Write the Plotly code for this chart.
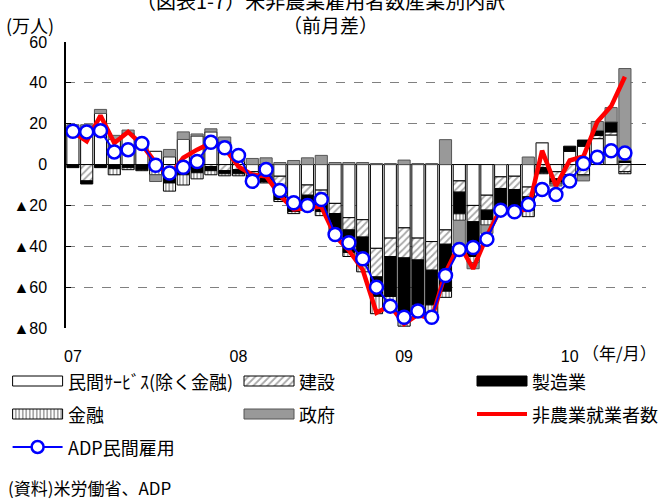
import plotly.graph_objects as go

W, H = 659, 501

# Monthly change, 2007/01 .. 2010/05 (unit: 10k persons)
months = list(range(41))
tick_pos = [0, 12, 24, 36]
tick_text = ["07", "08", "09", "10"]

services = [17, 17, 25, 12.3, 15.3, 10, 6.5, 3.8, 12.3, 14, 16, 11,
            1.5, -3.5, -4, -5.7, -17, -10, -12.5, -19, -26, -27, -41, -36, -31, -36, -37.7,
            -32, -8, -20, -15, -6, -5.7, -11, 10.7, -3.5, 6.5, 9, 12.7, 14.5, 1]
construction = [-0.5, -8, -0.5, -0.5, -0.5, -0.5, -1, -3, -1, -1, -1, -3,
                -2.5, -2, -2, -4.9, -1, -5, -2.5, -5, -6, -8.5, -14, -9, -14.7, -10.7, -14,
                -7, -5.5, -8, -7.3, -5.7, -6.5, -4.8, -1.5, -3.5, -5, -5, 1.6, 1.5, -3.5]
manufacturing = [-1, -1.5, -1, -1.5, -1, -2, -1.5, -6, -4, -3, -2, -1.5,
                 -2, -2, -2.5, -6.5, -5, -5, -8, -11, -11, -14, -9.5, -19.6, -26.9, -22, -17,
                 -23, -10.6, -17, -4.6, -11, -9, -6.5, -2.5, -1.5, 2.5, 3, 2.4, 4.9, 1]
finance = [0, 0, 0, -3, -1, -0.5, -2.5, -4, -5, -3, -2, -1,
           -1, -0.5, -0.5, -1, -1, -2.5, -2, -1, -2, -3, -8.5, -5.7, -6.5, -4, -4,
           -3, -3.2, -3, -2.7, -1, -2, -3.2, -0.5, -1, -1, -0.5, 0, 0, -1]
government = [2.5, 2.5, 2, 2, 1.6, 1, -3.3, 3.6, 3.7, 1, 1.5, 2.5,
              2, 3, 3.3, 1, 2, 3.3, 4.5, 1, 1, 1, 0.5, 0.5, 2.2, 0.5, 0.5,
              12.2, -12, -3, -4.1, 0, 0, 3.7, 0, -1, -2, -2.5, 4.4, 7, 45]
nonfarm = [16, 11.4, 24, 10.6, 16, 9.8, 0.8, -5.7, 3.3, 7.3, 10.6, 8,
           -1, -5, -5.7, -15, -22, -21.5, -20.5, -35, -42, -51.5, -72.5, -69, -78, -73.5, -75.5,
           -53, -39, -51, -35, -21.5, -22.5, -22, 6.8, -10.5, 2, 4, 21, 28.5, 43]
adp = [16.3, 16.0, 16.6, 6.2, 7.3, 10.3, -0.3, -4.1, -1.3, 1.5, 10.9, 8.2,
       4.5, -8.2, -2.4, -12.7, -18.7, -20.0, -17.1, -34.2, -38.3, -46.1, -60.0, -69.3, -74.7, -71.7, -74.7,
       -54.3, -41.6, -40.6, -36.5, -22.3, -23.1, -19.6, -12.2, -14.7, -8.1, 0.5, 3.6, 6.8, 5.7]

y_ticks = [60, 40, 20, 0, -20, -40, -60, -80]
y_tick_text = ["60", "40", "20", "0", "▲20", "▲40", "▲60", "▲80"]

names = ["民間ｻｰﾋﾞｽ(除く金融)", "建設", "製造業", "金融", "政府", "非農業就業者数", "ADP民間雇用"]

FONT = "Liberation Sans, Arial, Noto Sans CJK JP, sans-serif"
JFONT = "Noto Sans CJK JP, sans-serif"

# bar styles
styles = [
    dict(color="white", line=dict(color="black", width=1)),
    dict(color="white", line=dict(color="black", width=1),
         pattern=dict(shape="/", fgcolor="#505050", size=5, solidity=0.35, fillmode="overlay")),
    dict(color="black", line=dict(color="black", width=1)),
    dict(color="white", line=dict(color="black", width=1),
         pattern=dict(shape="|", fgcolor="black", size=3.5, solidity=0.35, fillmode="overlay")),
    dict(color="#999999", line=dict(color="#555555", width=1)),
]
series = [services, construction, manufacturing, finance, government]


def px(x):
    return x / W


def py(y):
    return 1 - y / H


fig = go.Figure()

for s, st, nm in zip(series, styles, names[:5]):
    fig.add_trace(go.Bar(x=months, y=s, name=nm, marker=st, xaxis="x", yaxis="y"))

fig.add_trace(go.Scatter(x=months, y=nonfarm, mode="lines", name=names[5],
                         line=dict(color="#ff0000", width=4.5), xaxis="x", yaxis="y"))
fig.add_trace(go.Scatter(x=months, y=adp, mode="lines+markers", name=names[6],
                         line=dict(color="#0000ff", width=2),
                         marker=dict(symbol="circle", size=13, color="white",
                                     line=dict(color="#0000ff", width=2.5)),
                         xaxis="x", yaxis="y"))

# legend keys drawn on a pixel-scaled helper axis below the plot
key_w, key_h = 50, 10
rows = [381, 414, 447]
cols = [12.6, 244, 477]
bar_keys = [(0, 0, 0), (1, 1, 0), (2, 2, 0), (3, 0, 1), (4, 1, 1)]
for si, c, r in bar_keys:
    fig.add_trace(go.Bar(orientation="h", x=[key_w], base=[cols[c]], y=[rows[r]], width=[key_h],
                         marker=styles[si], xaxis="x2", yaxis="y2", hoverinfo="skip"))
fig.add_trace(go.Scatter(x=[cols[2], cols[2] + key_w], y=[rows[1], rows[1]], mode="lines",
                         line=dict(color="#ff0000", width=4), xaxis="x2", yaxis="y2", hoverinfo="skip"))
fig.add_trace(go.Scatter(x=[cols[0], cols[0] + key_w], y=[rows[2], rows[2]], mode="lines",
                         line=dict(color="#0000ff", width=2), xaxis="x2", yaxis="y2", hoverinfo="skip"))
fig.add_trace(go.Scatter(x=[cols[0] + key_w / 2], y=[rows[2]], mode="markers",
                         marker=dict(symbol="circle", size=12, color="white",
                                     line=dict(color="#0000ff", width=2.5)),
                         xaxis="x2", yaxis="y2", hoverinfo="skip"))

label_pos = [(0, 0), (1, 0), (2, 0), (0, 1), (1, 1), (2, 1), (0, 2)]
annotations = []
for nm, (c, r) in zip(names, label_pos):
    annotations.append(dict(text=nm, x=px(cols[c] + key_w + 3), y=py(rows[r]), xref="paper", yref="paper",
                            xanchor="left", yanchor="middle", showarrow=False,
                            font=dict(family=JFONT, size=18, color="black")))

annotations += [
    dict(text="（図表1-7）米非農業雇用者数産業別内訳", x=px(320), y=py(0), xref="paper", yref="paper",
         xanchor="center", yanchor="middle", showarrow=False,
         font=dict(family=JFONT, size=20, color="black")),
    dict(text="（前月差）", x=px(330), y=py(25), xref="paper", yref="paper",
         xanchor="center", yanchor="middle", showarrow=False,
         font=dict(family=JFONT, size=19, color="black")),
    dict(text="(万人)", x=px(4), y=py(25), xref="paper", yref="paper",
         xanchor="left", yanchor="middle", showarrow=False,
         font=dict(family=JFONT, size=18, color="black")),
    dict(text="（年/月）", x=px(659), y=py(352), xref="paper", yref="paper",
         xanchor="right", yanchor="middle", showarrow=False,
         font=dict(family=JFONT, size=17, color="black")),
    dict(text="(資料)米労働省、ADP", x=px(6), y=py(487), xref="paper", yref="paper",
         xanchor="left", yanchor="middle", showarrow=False,
         font=dict(family=JFONT, size=17, color="black")),
]

fig.update_layout(
    width=W, height=H,
    margin=dict(l=0, r=0, t=0, b=0, autoexpand=False),
    barmode="relative", bargap=0.12,
    plot_bgcolor="rgba(0,0,0,0)", paper_bgcolor="white",
    showlegend=False,
    annotations=annotations,
    xaxis=dict(domain=[px(66), px(645.6)], range=[-0.5, 41.5], anchor="y",
               tickmode="array", tickvals=tick_pos, ticktext=tick_text,
               ticks="outside", ticklen=14, tickcolor="rgba(0,0,0,0)",
               showline=False, showgrid=False, zeroline=False,
               tickfont=dict(family=FONT, size=16, color="black")),
    yaxis=dict(domain=[py(328), py(42)], range=[-80, 60], anchor="x",
               tickmode="array", tickvals=y_ticks, ticktext=y_tick_text,
               ticks="inside", ticklen=5, tickcolor="black", ticklabelstandoff=14,
               showline=True, linecolor="black", linewidth=1.5,
               showgrid=True, gridcolor="#808080", griddash="dash", gridwidth=1.3,
               zeroline=True, zerolinecolor="black", zerolinewidth=1.3,
               tickfont=dict(family=FONT, size=16, color="black")),
    xaxis2=dict(domain=[0, 1], range=[0, W], anchor="y2", visible=False, fixedrange=True),
    yaxis2=dict(domain=[0, py(335)], range=[H, 335], anchor="x2", visible=False, fixedrange=True),
)

fig.write_html("out.html")
